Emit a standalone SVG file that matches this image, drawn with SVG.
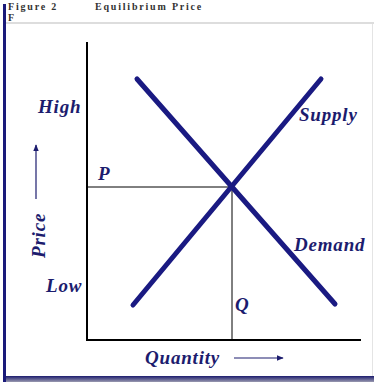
<svg xmlns="http://www.w3.org/2000/svg" width="374" height="382" viewBox="0 0 374 382">
<defs>
<style>
.lbl{font-family:"Liberation Serif","Times New Roman",serif;font-style:italic;font-weight:bold;fill:#1c1c6e;font-size:19px;letter-spacing:0.8px}
.hdr{font-family:"Liberation Serif",serif;font-weight:bold;fill:#333;font-size:10px;letter-spacing:1.8px}
.curve{stroke:#1a1a82;stroke-width:5;stroke-linecap:round;fill:none}
.axis{stroke:#000;stroke-width:2;fill:none}
.guide{stroke:#000;stroke-width:1;fill:none}
</style>
<marker id="ah" viewBox="0 0 10 10" refX="9" refY="5" markerWidth="6" markerHeight="6" orient="auto">
<path d="M0,1 L10,5 L0,9 z" fill="#1c1c6e"/>
</marker>
<linearGradient id="band" x1="0" y1="0" x2="0" y2="1">
<stop offset="0" stop-color="#1c1c6e"/>
<stop offset="1" stop-color="#9a9ab0"/>
</linearGradient>
</defs>
<rect width="374" height="382" fill="#fff"/>
<rect x="3" y="4" width="3" height="378" fill="#1a1a7a"/>
<rect x="6" y="22" width="368" height="2" fill="#ddd"/>
<rect x="372" y="24" width="1" height="352" fill="#e4e4e4"/>
<rect x="6" y="376" width="368" height="6" fill="url(#band)"/>
<text class="hdr" x="8" y="10">Figure 2</text>
<text class="hdr" x="95" y="10">Equilibrium Price</text>
<text class="hdr" x="8" y="20.5">F</text>
<g id="connectors">
<line class="axis" x1="87" y1="42" x2="87" y2="341"/>
<line class="axis" x1="86" y1="340" x2="361" y2="340"/>
<line class="guide" x1="87" y1="187" x2="232" y2="187"/>
<line class="guide" x1="232" y1="187" x2="232" y2="340"/>
<line class="curve" x1="137" y1="79" x2="335" y2="304"/>
<line class="curve" x1="133" y1="305" x2="321" y2="79"/>
<line stroke="#1c1c6e" stroke-width="1.2" x1="36" y1="199" x2="36" y2="145" marker-end="url(#ah)"/>
<line stroke="#1c1c6e" stroke-width="1.2" x1="234" y1="358" x2="283" y2="358" marker-end="url(#ah)"/>
</g>
<g id="high"><text class="lbl" x="38" y="113">High</text></g>
<g id="low"><text class="lbl" x="46" y="292">Low</text></g>
<g id="p"><text class="lbl" x="98" y="180">P</text></g>
<g id="q"><text class="lbl" x="235" y="311">Q</text></g>
<g id="price"><text class="lbl" transform="translate(45,258) rotate(-90)">Price</text></g>
<g id="quantity"><text class="lbl" x="145" y="364">Quantity</text></g>
<g id="supply"><text class="lbl" x="299" y="121">Supply</text></g>
<g id="demand"><text class="lbl" x="294" y="251">Demand</text></g>
</svg>
